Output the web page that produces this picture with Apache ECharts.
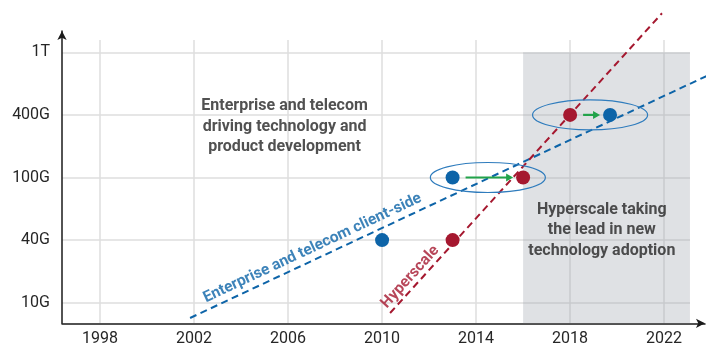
<!DOCTYPE html>
<html>
<head>
<meta charset="utf-8">
<script src="https://cdn.jsdelivr.net/npm/echarts@6/dist/echarts.min.js"></script>
<style>
  html, body { margin: 0; padding: 0; background: #fff; }
  #chart { width: 709px; height: 347px; }
</style>
</head>
<body>
<div id="chart"></div>
<script>
// Port speed levels (even spacing per generation) and year ticks
const speedLabels = ['10G', '40G', '100G', '400G', '1T'];
const yearTicks = [1998, 2002, 2006, 2010, 2014, 2018, 2022];

// First deployments: [year, speed level index]
const enterpriseDots = [[2010, 1], [2013, 2], [2019.7, 3]];
const hyperscaleDots = [[2013, 1], [2016, 2], [2018, 3]];

// Lead shifts: [from year, to year, speed level index]
const leadShifts = [[2013, 2016, 2], [2018, 2019.7, 3]];

// Trend lines (endpoints in year / level units)
const enterpriseTrend = [[2001.83, -0.244], [2024, 3.655]];
const hyperscaleTrend = [[2010.34, -0.165], [2021.91, 4.623]];

// Shaded era where hyperscale leads: [start year, end year]
const hyperscaleEra = [2016, 2023.1];

const BLUE = '#0d64a8';
const RED = '#a5182f';
const GREEN = '#22a34a';
const TEXT = '#262626';
const GRIDLINE = '#dedede';
const FONT = 'Roboto, "Noto Sans", sans-serif';

const chart = echarts.init(document.getElementById('chart'), null, { renderer: 'canvas' });

const option = {
  animation: false,
  textStyle: { fontFamily: FONT },
  grid: [
    // 0: plot area with axis lines
    { left: 62, right: 4, top: 31, bottom: 23.7 },
    // 1: vertical year gridlines and year labels
    { left: 100, right: 45, top: 40, bottom: 23.7 },
    // 2: horizontal speed gridlines and speed labels
    { left: 62, right: 19, top: 52.3, bottom: 44.3 }
  ],
  xAxis: [
    {
      gridIndex: 0, type: 'value', min: 1996.38, max: 2023.74,
      axisLine: { show: true, onZero: false, symbol: ['none', 'arrow'], symbolSize: [7, 9],
                  lineStyle: { color: '#1a1a1a', width: 1.5 } },
      axisTick: { show: false }, axisLabel: { show: false }, splitLine: { show: false }
    },
    {
      gridIndex: 1, type: 'value',
      min: yearTicks[0], max: yearTicks[yearTicks.length - 1], interval: 4,
      axisLine: { show: false }, axisTick: { show: false },
      axisLabel: {
        margin: 8, fontSize: 16, color: TEXT, fontFamily: FONT,
        formatter: v => String(v)
      },
      splitLine: { show: true, lineStyle: { color: GRIDLINE, width: 1.5 } }
    },
    {
      gridIndex: 2, type: 'value', min: 0, max: 1, show: false
    }
  ],
  yAxis: [
    {
      gridIndex: 0, type: 'value', min: -0.329, max: 4.34,
      axisLine: { show: true, onZero: false, symbol: ['none', 'arrow'], symbolSize: [7, 9],
                  lineStyle: { color: '#1a1a1a', width: 1.5 } },
      axisTick: { show: false }, axisLabel: { show: false }, splitLine: { show: false }
    },
    {
      gridIndex: 1, type: 'value', min: 0, max: 1, show: false
    },
    {
      gridIndex: 2, type: 'value', min: 0, max: speedLabels.length - 1, interval: 1,
      axisLine: { show: false }, axisTick: { show: false },
      axisLabel: {
        margin: 12, fontSize: 16, color: TEXT, fontFamily: FONT,
        formatter: v => speedLabels[v] || ''
      },
      splitLine: { show: true, lineStyle: { color: GRIDLINE, width: 1.5 } }
    }
  ],
  series: [
    // Shaded hyperscale-led era
    {
      type: 'line', xAxisIndex: 0, yAxisIndex: 0, data: [], z: 1,
      markArea: {
        silent: true,
        itemStyle: { color: 'rgba(150,156,164,0.30)' },
        data: [[{ coord: [hyperscaleEra[0], -0.329] },
                { coord: [hyperscaleEra[1], speedLabels.length - 1] }]]
      }
    },
    // Enterprise / telecom trend
    {
      type: 'line', xAxisIndex: 0, yAxisIndex: 0, z: 3, clip: false,
      data: enterpriseTrend, symbol: 'none',
      lineStyle: { color: BLUE, width: 2, type: [7, 4.5] }
    },
    // Hyperscale trend
    {
      type: 'line', xAxisIndex: 0, yAxisIndex: 0, z: 3, clip: false,
      data: hyperscaleTrend, symbol: 'none',
      lineStyle: { color: RED, width: 2, type: [7, 4.5] }
    },
    // Ellipses around each lead shift
    {
      type: 'custom', xAxisIndex: 0, yAxisIndex: 0, z: 4, clip: false,
      data: leadShifts,
      renderItem: function (params, api) {
        const c = api.coord([(api.value(0) + api.value(1)) / 2, api.value(2)]);
        return {
          type: 'ellipse',
          shape: { cx: c[0], cy: c[1], rx: 57.5, ry: 15 },
          style: { fill: null, stroke: '#2f7cbd', lineWidth: 1.2 }
        };
      }
    },
    // Green arrows showing the lead shift
    {
      type: 'custom', xAxisIndex: 0, yAxisIndex: 0, z: 5, clip: false,
      data: leadShifts,
      renderItem: function (params, api) {
        const a = api.coord([api.value(0), api.value(2)]);
        const b = api.coord([api.value(1), api.value(2)]);
        const x1 = a[0] + 13, x2 = b[0] - 10, y = a[1];
        return {
          type: 'group',
          children: [
            { type: 'line', shape: { x1: x1, y1: y, x2: x2 - 5, y2: y },
              style: { stroke: GREEN, lineWidth: 2.2 } },
            { type: 'polygon', shape: { points: [[x2, y], [x2 - 7, y - 4], [x2 - 7, y + 4]] },
              style: { fill: GREEN } }
          ]
        };
      }
    },
    // Dots
    {
      type: 'scatter', xAxisIndex: 0, yAxisIndex: 0, z: 6,
      data: enterpriseDots, symbolSize: 14, itemStyle: { color: BLUE, opacity: 1 }
    },
    {
      type: 'scatter', xAxisIndex: 0, yAxisIndex: 0, z: 6,
      data: hyperscaleDots, symbolSize: 14, itemStyle: { color: RED, opacity: 1 }
    },
    // Text annotations
    {
      type: 'scatter', xAxisIndex: 0, yAxisIndex: 0, z: 7, symbolSize: 0, silent: true,
      data: [
        { value: [2005.85, 2.81], label: {
            formatter: 'Enterprise and telecom\ndriving technology and\nproduct development',
            fontWeight: 'bold', color: TEXT, fontSize: 16, lineHeight: 20.5 } },
        { value: [2019.35, 1.16], label: {
            formatter: 'Hyperscale taking\nthe lead in new\ntechnology adoption',
            fontWeight: 'bold', color: TEXT, fontSize: 16, lineHeight: 20.5 } },
        { value: [2007.04, 0.87], label: {
            formatter: 'Enterprise and telecom client-side',
            fontWeight: 'bold', color: BLUE, fontSize: 15.5, rotate: 25.1 } },
        { value: [2011.2, 0.41], label: {
            formatter: 'Hyperscale',
            fontWeight: 'bold', color: RED, fontSize: 15.5, rotate: 47.8 } }
      ],
      label: { show: true, position: 'inside', align: 'center', verticalAlign: 'middle',
               fontFamily: FONT }
    }
  ]
};

chart.setOption(option);
</script>
</body>
</html>
